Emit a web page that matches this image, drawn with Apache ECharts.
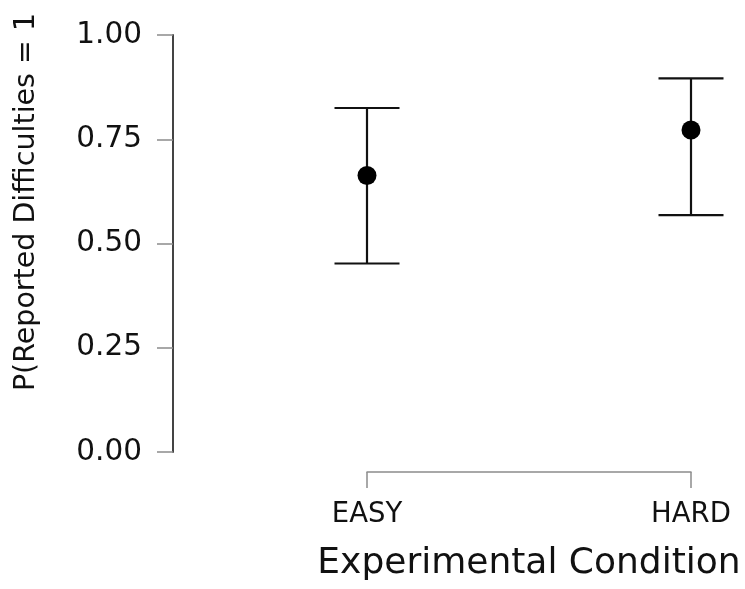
<!DOCTYPE html>
<html>
<head>
<meta charset="utf-8">
<script src="https://cdn.jsdelivr.net/npm/echarts@6/dist/echarts.min.js"></script>
<style>
html,body{margin:0;padding:0;background:#fff;}
#chart{width:745px;height:589px;}
</style>
</head>
<body>
<div id="chart"></div>
<script>
var categories = ['EASY', 'HARD'];
var estimates = [0.663, 0.772];
var lowerCI = [0.452, 0.568];
var upperCI = [0.825, 0.896];
var yTicks = [0, 0.25, 0.5, 0.75, 1];
var xTitle = 'Experimental Condition';
var yTitle = 'P(Reported Difficulties = 1';

var FONT = 'DejaVu Sans';
var chart = echarts.init(document.getElementById('chart'), null, {renderer: 'canvas'});

var ciData = categories.map(function (c, i) { return [i, lowerCI[i], upperCI[i]]; });
var ptData = categories.map(function (c, i) { return [i, estimates[i]]; });

var option = {
  animation: false,
  backgroundColor: '#ffffff',
  grid: {left: 367, right: 54, top: 35, bottom: 137, containLabel: false},
  xAxis: {
    type: 'category',
    data: categories,
    boundaryGap: false,
    offset: 20,
    axisLine: {show: true, onZero: false, lineStyle: {color: '#8c8c8c', width: 1.5}},
    axisTick: {show: true, length: 16, alignWithLabel: true, lineStyle: {color: '#8c8c8c', width: 1.5}},
    axisLabel: {margin: 29, fontFamily: FONT, fontSize: 27.5, color: '#111'},
    splitLine: {show: false}
  },
  yAxis: {
    type: 'value',
    min: yTicks[0], max: yTicks[yTicks.length - 1], interval: 0.25,
    offset: 194,
    axisLine: {show: true, lineStyle: {color: '#444', width: 2}},
    axisTick: {show: true, length: 16, lineStyle: {color: '#8c8c8c', width: 1.5}},
    axisLabel: {margin: 31, fontFamily: FONT, fontSize: 29.5, color: '#111',
      formatter: function (v) { return v.toFixed(2); }},
    splitLine: {show: false}
  },
  graphic: [
    {type: 'text', x: 529, y: 564,
      style: {text: xTitle, fontFamily: FONT, fontSize: 36, fill: '#111', align: 'center', verticalAlign: 'middle'}},
    {type: 'text', x: 27, y: 202, rotation: Math.PI / 2,
      style: {text: yTitle, fontFamily: FONT, fontSize: 28.5, fill: '#111', align: 'center', verticalAlign: 'middle'}}
  ],
  series: [
    {
      type: 'custom',
      data: ciData,
      renderItem: function (params, api) {
        var x = api.value(0);
        var lo = api.coord([x, api.value(1)]);
        var hi = api.coord([x, api.value(2)]);
        var hw = 32.5;
        var st = {stroke: '#111', lineWidth: 2.2};
        return {
          type: 'group',
          children: [
            {type: 'line', shape: {x1: lo[0], y1: lo[1], x2: hi[0], y2: hi[1]}, style: st},
            {type: 'line', shape: {x1: lo[0] - hw, y1: lo[1], x2: lo[0] + hw, y2: lo[1]}, style: st},
            {type: 'line', shape: {x1: hi[0] - hw, y1: hi[1], x2: hi[0] + hw, y2: hi[1]}, style: st}
          ]
        };
      },
      z: 2
    },
    {
      type: 'scatter',
      data: ptData,
      symbol: 'circle',
      symbolSize: 19,
      itemStyle: {color: '#000', opacity: 1},
      z: 3
    }
  ]
};
chart.setOption(option);
</script>
</body>
</html>
